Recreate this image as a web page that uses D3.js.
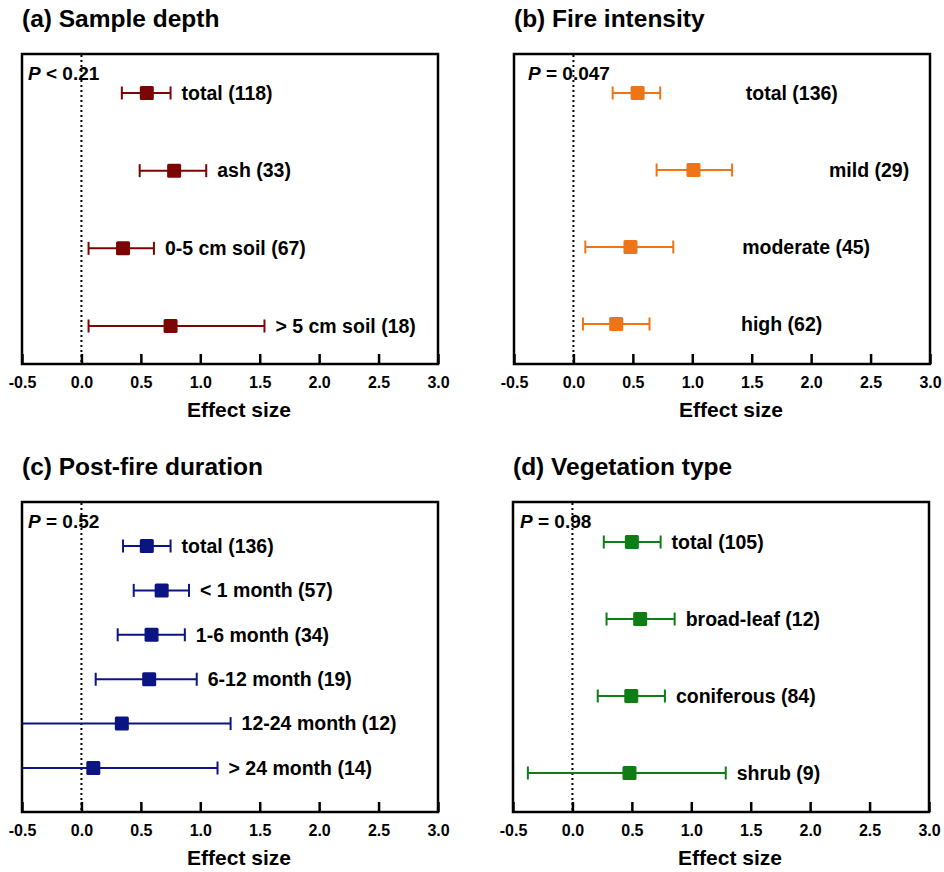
<!DOCTYPE html>
<html lang="en">
<head>
  <meta charset="UTF-8">
  <style>
    body {
      margin: 0;
      background: #fff;
      overflow: hidden;
    }

    svg {
      display: block;
      font-family: "Liberation Sans", Arial, sans-serif;
      font-weight: bold;
    }

    .frame {
      fill: none;
      stroke: #000;
      stroke-width: 2.5;
    }

    .zero {
      stroke: #000;
      stroke-width: 2;
      stroke-dasharray: 2, 3;
    }
  </style>
  <script src="https://d3js.org/d3.v7.min.js"></script>
</head>
<body>

<svg id="chart"></svg>

<script>
  // x ticks shared by all panels
  const xTicks = [-0.5, 0, 0.5, 1.0, 1.5, 2.0, 2.5, 3.0];

  // (a) Sample depth
  const depthCats = ["total (118)", "ash (33)", "0-5 cm soil (67)", "> 5 cm soil (18)"];
  const depthMean = [0.55, 0.78, 0.35, 0.75];
  const depthLow = [0.34, 0.49, 0.06, 0.06];
  const depthHigh = [0.75, 1.05, 0.61, 1.54];

  // (b) Fire intensity
  const fireCats = ["total (136)", "mild (29)", "moderate (45)", "high (62)"];
  const fireMean = [0.54, 1.01, 0.48, 0.36];
  const fireLow = [0.33, 0.70, 0.10, 0.08];
  const fireHigh = [0.73, 1.335, 0.84, 0.64];
  const fireLabelAt = [1.45, 2.15, 1.42, 1.41]; // labels sit in their own column here

  // (c) Post-fire duration
  const durCats = ["total (136)", "< 1 month (57)", "1-6 month (34)", "6-12 month (19)", "12-24 month (12)", "> 24 month (14)"];
  const durMean = [0.55, 0.675, 0.59, 0.57, 0.34, 0.10];
  const durLow = [0.35, 0.44, 0.305, 0.12, -0.62, -0.60];
  const durHigh = [0.75, 0.905, 0.87, 0.97, 1.255, 1.145];

  // (d) Vegetation type
  const vegCats = ["total (105)", "broad-leaf (12)", "coniferous (84)", "shrub (9)"];
  const vegMean = [0.50, 0.57, 0.495, 0.48];
  const vegLow = [0.264, 0.287, 0.213, -0.375];
  const vegHigh = [0.742, 0.86, 0.778, 1.29];

  const panels = [
    { title: "(a) Sample depth", p: "< 0.21", color: "#7b0505",
      cats: depthCats, mean: depthMean, low: depthLow, high: depthHigh,
      left: 22, top: 54, rows: [39, 272] },
    { title: "(b) Fire intensity", p: "= 0.047", color: "#ee7418",
      cats: fireCats, mean: fireMean, low: fireLow, high: fireHigh, labelAt: fireLabelAt,
      left: 514, top: 54, rows: [39, 270] },
    { title: "(c) Post-fire duration", p: "= 0.52", color: "#0b1483",
      cats: durCats, mean: durMean, low: durLow, high: durHigh,
      left: 22, top: 502, rows: [44, 266] },
    { title: "(d) Vegetation type", p: "= 0.98", color: "#0f7d16",
      cats: vegCats, mean: vegMean, low: vegLow, high: vegHigh,
      left: 513, top: 502, rows: [40, 271] }
  ];

  const W = 416, H = 310;

  const svg = d3.select("#chart")
    .attr("width", 944)
    .attr("height", 872);

  panels.forEach((pn, idx) => {
    const g = svg.append("g").attr("transform", `translate(${pn.left},${pn.top})`);

    const x = d3.scaleLinear().domain([-0.5, 3.0]).range([0, W]);
    const y = d3.scalePoint().domain(pn.cats).range(pn.rows);

    const clipId = "clip" + idx;
    g.append("clipPath").attr("id", clipId)
      .append("rect").attr("width", W).attr("height", H);

    // panel title
    g.append("text")
      .attr("x", 0)
      .attr("y", -36)
      .attr("dy", "0.35em")
      .style("font-size", "24.5px")
      .text(pn.title);

    // dotted zero line
    g.append("line")
      .attr("class", "zero")
      .attr("x1", x(0)).attr("x2", x(0))
      .attr("y1", 1).attr("y2", H);

    // P value
    const pt = g.append("text")
      .attr("x", idx === 1 ? 14 : (idx === 3 ? 7 : 6))
      .attr("y", 19)
      .attr("dy", "0.35em")
      .style("font-size", "19px");
    pt.append("tspan").style("font-style", "italic").text("P");
    pt.append("tspan").text(" " + pn.p);

    const rows = pn.cats.map((c, i) => ({
      cat: c, mean: pn.mean[i], low: pn.low[i], high: pn.high[i],
      labelAt: pn.labelAt ? pn.labelAt[i] : null
    }));

    const marks = g.append("g").attr("clip-path", `url(#${clipId})`);

    const row = marks.selectAll("g.row")
      .data(rows)
      .join("g")
      .attr("class", "row")
      .attr("transform", d => `translate(0,${y(d.cat)})`);

    row.append("line")
      .attr("x1", d => x(d.low)).attr("x2", d => x(d.high))
      .attr("stroke", pn.color).attr("stroke-width", 2);

    // whisker caps
    ["low", "high"].forEach(k => {
      row.append("line")
        .attr("x1", d => x(d[k])).attr("x2", d => x(d[k]))
        .attr("y1", -6.5).attr("y2", 6.5)
        .attr("stroke", pn.color).attr("stroke-width", 2);
    });

    row.append("rect")
      .attr("x", d => x(d.mean) - 7)
      .attr("y", -7)
      .attr("width", 14).attr("height", 14)
      .attr("rx", 1.5)
      .attr("fill", pn.color);

    g.selectAll("text.lab")
      .data(rows)
      .join("text")
      .attr("class", "lab")
      .attr("x", d => d.labelAt != null ? x(d.labelAt) : x(d.high) + 11)
      .attr("y", d => y(d.cat))
      .attr("dy", "0.35em")
      .style("font-size", "19.5px")
      .text(d => d.cat);

    // bottom axis, ticks pointing inward
    const axis = d3.axisBottom(x)
      .tickValues(xTicks)
      .tickSize(-10)
      .tickPadding(13)
      .tickFormat(v => v.toFixed(1));

    const ag = g.append("g")
      .attr("transform", `translate(0,${H})`)
      .call(axis);
    ag.select(".domain").remove();
    ag.selectAll(".tick line").attr("stroke", "#000").attr("stroke-width", 2.5);
    ag.selectAll(".tick text")
      .attr("fill", "#000")
      .style("font-family", "\"Liberation Sans\", Arial, sans-serif")
      .style("font-weight", "bold")
      .style("font-size", "16px");

    g.append("text")
      .attr("x", W / 2 + 9)
      .attr("y", H + 46)
      .attr("dy", "0.35em")
      .attr("text-anchor", "middle")
      .style("font-size", "21px")
      .text("Effect size");

    g.append("rect")
      .attr("class", "frame")
      .attr("width", W)
      .attr("height", H);
  });
</script>

</body>
</html>
